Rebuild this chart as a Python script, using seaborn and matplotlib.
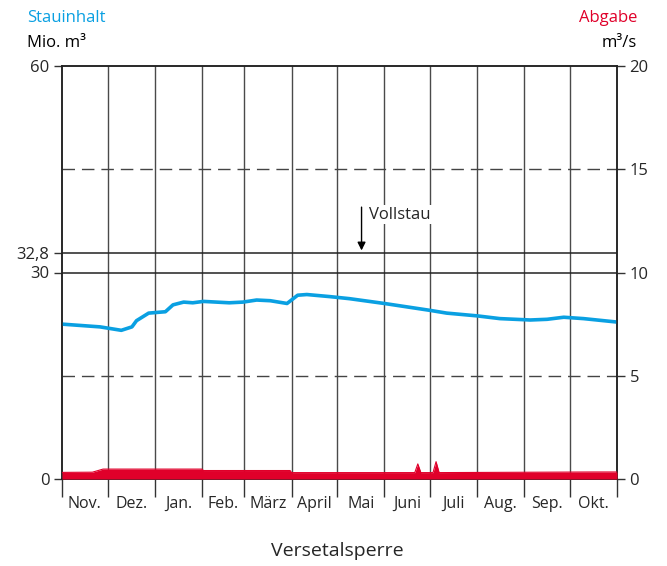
import numpy as np
import pandas as pd
import matplotlib
matplotlib.use("Agg")
import matplotlib.pyplot as plt
import seaborn as sns

# Monate (Abflussjahr Nov.–Okt.)
months = ["Nov.", "Dez.", "Jan.", "Feb.", "März", "April", "Mai",
          "Juni", "Juli", "Aug.", "Sep.", "Okt."]
month_days = [30, 31, 31, 28, 31, 30, 31, 30, 31, 31, 30, 31]

# Stauinhalt in Mio. m³ (Tag im Abflussjahr, Wert)
stau_day = [0, 25, 39, 46, 49, 57, 68, 73, 80, 86, 93, 110, 119, 128, 137,
            148, 155, 161, 176, 189, 212, 242, 253, 273, 288, 308, 319, 330,
            343, 365]
stau_val = [22.5, 22.1, 21.6, 22.1, 23.0, 24.1, 24.3, 25.3, 25.7, 25.6, 25.8,
            25.6, 25.7, 26.0, 25.9, 25.5, 26.7, 26.8, 26.5, 26.2, 25.5, 24.5,
            24.1, 23.7, 23.3, 23.1, 23.2, 23.5, 23.3, 22.8]

# Abgabe in m³/s
abg_day = [0, 20, 27, 92, 93, 150, 151, 232, 234, 236, 244, 246, 248, 350, 365]
abg_val = [0.32, 0.33, 0.48, 0.48, 0.41, 0.41, 0.31, 0.31, 0.73, 0.31, 0.31,
           0.84, 0.31, 0.34, 0.34]

vollstau = 32.8
blue = "#0aa0e2"
red = "#e0002a"

sns.set_theme(style="white")
plt.rcParams["font.family"] = ["Open Sans", "DejaVu Sans"]

fig = plt.figure(figsize=(6.67, 5.66), dpi=100)
ax = fig.add_axes([62 / 667, 87 / 566, 555 / 667, 413 / 566])
ax2 = ax.twinx()

bounds = np.concatenate([[0], np.cumsum(month_days)])
centers = (bounds[:-1] + bounds[1:]) / 2

# Raster
for b in bounds[1:-1]:
    ax.axvline(b, color="#4a4a4a", lw=1, zorder=1)
for y in [45, 15]:
    ax.axhline(y, color="#444444", lw=1, ls=(0, (9, 5)), zorder=1)
for y in [30, vollstau]:
    ax.axhline(y, color="#222222", lw=1.1, zorder=1)

df_stau = pd.DataFrame({"tag": stau_day, "inhalt": stau_val})
sns.lineplot(data=df_stau, x="tag", y="inhalt", ax=ax, color=blue, lw=2.6, zorder=3)

df_abg = pd.DataFrame({"tag": abg_day, "abgabe": abg_val})
ax2.fill_between(df_abg["tag"], 0, df_abg["abgabe"], color=red, lw=0, zorder=3)
sns.lineplot(data=df_abg, x="tag", y="abgabe", ax=ax2, color=red, lw=0.8, zorder=3)

ax.set_xlim(0, 365)
ax.set_ylim(0, 60)
ax2.set_ylim(0, 20)

ax.set_xticks(bounds)
ax.set_xticklabels([])
ax.set_xticks(centers, minor=True)
ax.set_xticklabels(months, minor=True)
ax.tick_params(axis="x", which="major", direction="out", length=13, width=1,
               color="#333333", bottom=True)
ax.tick_params(axis="x", which="minor", length=0, pad=12, labelsize=11.5)

ax.set_yticks([0, 30, vollstau, 60])
ax.set_yticklabels(["0", "30", "32,8", "60"])
ax.tick_params(axis="y", direction="out", length=6, width=1, color="#333333",
               left=True, labelsize=12, pad=3)
ax2.set_yticks([0, 5, 10, 15, 20])
ax2.tick_params(axis="y", direction="out", length=6, width=1, color="#333333",
                right=True, labelsize=12, pad=3)

ax.set_xlabel("")
ax.set_ylabel("")
ax2.set_xlabel("")
ax2.set_ylabel("")
for a in (ax, ax2):
    for s in a.spines.values():
        s.set_color("#222222")
        s.set_linewidth(1.1)

# Vollstau-Markierung
ax.annotate("", xy=(197, vollstau), xytext=(197, 39.9),
            arrowprops=dict(arrowstyle="-|>", color="black", lw=1,
                            mutation_scale=12), zorder=5)
ax.text(202, 38.4, "Vollstau", fontsize=12, va="center", ha="left",
        bbox=dict(facecolor="white", edgecolor="none", pad=1), zorder=5)

# Achsentitel
fig.text(27 / 667, 1 - 18 / 566, "Stauinhalt", color=blue, fontsize=12,
         ha="left", va="center")
fig.text(27 / 667, 1 - 43 / 566, "Mio. m³", color="black",
         fontsize=12, ha="left", va="center")
fig.text(637 / 667, 1 - 18 / 566, "Abgabe", color=red, fontsize=12,
         ha="right", va="center")
fig.text(637 / 667, 1 - 43 / 566, "m³/s", color="black",
         fontsize=12, ha="right", va="center")
fig.text(337 / 667, 1 - 551 / 566, "Versetalsperre", fontsize=14,
         ha="center", va="center")

fig.savefig("out.png", dpi=100)
